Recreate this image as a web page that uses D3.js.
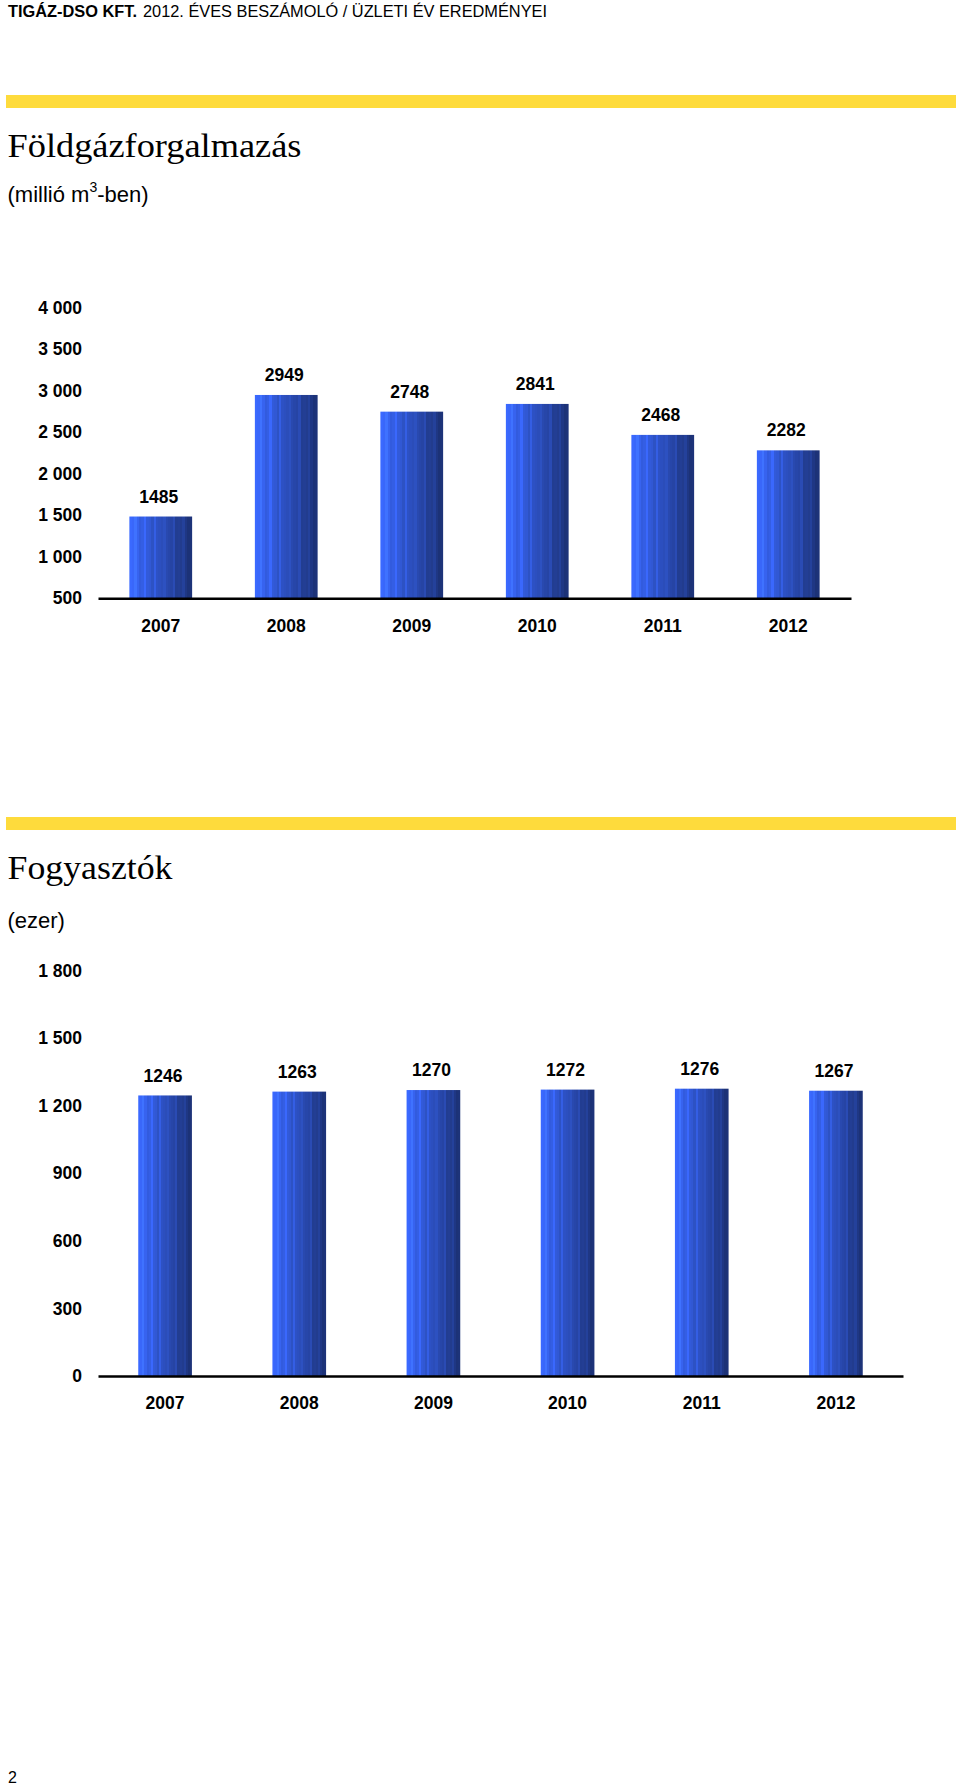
<!DOCTYPE html>
<html lang="hu">
<head>
<meta charset="UTF-8">
<title>Földgázforgalmazás és Fogyasztók</title>
<script src="https://d3js.org/d3.v7.min.js"></script>
<style>
    body { margin: 0; background: #fff; }
    svg { display: block; }
    .sans { font-family: "Liberation Sans", Arial, sans-serif; fill: #000; }
    .serif { font-family: "Liberation Serif", "Times New Roman", serif; fill: #000; }
    .axis text { font-family: "Liberation Sans", Arial, sans-serif; font-weight: bold; font-size: 17.5px; fill: #000; }
    .axis .domain { stroke: #000; stroke-width: 2.5px; }
    .value-label { font-family: "Liberation Sans", Arial, sans-serif; font-weight: bold; font-size: 17.5px; text-anchor: middle; fill: #000; }
</style>
</head>
<body>
<svg width="960" height="1788"></svg>
<script>
// data
const years = ["2007", "2008", "2009", "2010", "2011", "2012"];
const gasValues = [1485, 2949, 2748, 2841, 2468, 2282];          // millió m3
const gasTicks = [500, 1000, 1500, 2000, 2500, 3000, 3500, 4000];
const consumerValues = [1246, 1263, 1270, 1272, 1276, 1267];     // ezer
const consumerTicks = [0, 300, 600, 900, 1200, 1500, 1800];

const svg = d3.select("svg");
const fmt = d3.formatLocale({ decimal: ",", thousands: " ", grouping: [3], currency: ["", ""] }).format(",");

// striped blue gradient for the bars
const grad = svg.append("defs").append("linearGradient")
    .attr("id", "barGrad")
    .attr("x1", 0).attr("x2", 1).attr("y1", 0).attr("y2", 0);
const shade = d3.interpolateRgb("#3a69ff", "#1d3379");
const nStripes = 26;
for (let i = 0; i < nStripes; i++) {
    let c = d3.color(shade(i / (nStripes - 1)));
    if (i % 4 === 2) c = c.brighter(0.35);
    if (i % 5 === 4) c = c.darker(0.15);
    grad.append("stop").attr("offset", i / nStripes).attr("stop-color", c.formatHex());
    grad.append("stop").attr("offset", (i + 1) / nStripes).attr("stop-color", c.formatHex());
}

// page header
svg.append("text").attr("class", "sans")
    .attr("x", 8).attr("y", 17)
    .attr("font-size", 16).attr("font-weight", "bold")
    .attr("textLength", 129).attr("lengthAdjust", "spacingAndGlyphs")
    .text("TIGÁZ-DSO KFT.");
svg.append("text").attr("class", "sans")
    .attr("x", 143).attr("y", 17)
    .attr("font-size", 16)
    .attr("textLength", 404).attr("lengthAdjust", "spacingAndGlyphs")
    .text("2012. ÉVES BESZÁMOLÓ / ÜZLETI ÉV EREDMÉNYEI");

function section(top, title, titleLen) {
    svg.append("rect")
        .attr("x", 6).attr("y", top).attr("width", 950).attr("height", 13)
        .attr("fill", "#fedb3c");
    svg.append("text").attr("class", "serif")
        .attr("x", 7.5).attr("y", top + 62)
        .attr("font-size", 33)
        .attr("textLength", titleLen).attr("lengthAdjust", "spacingAndGlyphs")
        .text(title);
}

section(95, "Földgázforgalmazás", 294);
const sub1 = svg.append("text").attr("class", "sans")
    .attr("x", 7.5).attr("y", 201.5).attr("font-size", 22);
sub1.append("tspan").text("(millió m");
sub1.append("tspan").attr("font-size", 14).attr("dy", -10).text("3");
sub1.append("tspan").attr("dy", 10).text("-ben)");

section(817, "Fogyasztók", 165);
svg.append("text").attr("class", "sans")
    .attr("x", 7.5).attr("y", 927.5).attr("font-size", 22)
    .text("(ezer)");

function barChart(values, ticks, yRange, xRange, padInner) {
    const x = d3.scaleBand()
        .domain(years)
        .range(xRange)
        .paddingInner(padInner)
        .paddingOuter(padInner / 2);

    const y = d3.scaleLinear()
        .domain([ticks[0], ticks[ticks.length - 1]])
        .range(yRange);

    const g = svg.append("g");

    g.append("g")
        .attr("class", "axis")
        .attr("transform", "translate(82,0)")
        .call(d3.axisLeft(y).tickValues(ticks).tickSize(0).tickPadding(0).tickFormat(fmt))
        .call(a => a.select(".domain").remove());

    g.selectAll(".bar")
        .data(values)
        .enter().append("rect")
        .attr("class", "bar")
        .attr("x", (d, i) => x(years[i]))
        .attr("y", d => y(d))
        .attr("width", x.bandwidth())
        .attr("height", d => y(ticks[0]) - y(d))
        .attr("fill", "url(#barGrad)");

    g.append("g")
        .attr("class", "axis")
        .attr("transform", `translate(0,${y(ticks[0])})`)
        .call(d3.axisBottom(x).tickSize(0).tickSizeOuter(0).tickPadding(21));

    g.selectAll(".value-label")
        .data(values)
        .enter().append("text")
        .attr("class", "value-label")
        .attr("x", (d, i) => x(years[i]) + x.bandwidth() / 2 - 2)
        .attr("y", d => y(d) - 20)
        .attr("dy", "0.35em")
        .text(d => d);
}

barChart(gasValues, gasTicks, [598.3, 307.7], [98, 851], 0.5);
barChart(consumerValues, consumerTicks, [1376, 970.7], [98, 903], 0.6);

// page number
svg.append("text").attr("class", "sans")
    .attr("x", 8).attr("y", 1783).attr("font-size", 16)
    .text("2");
</script>
</body>
</html>
